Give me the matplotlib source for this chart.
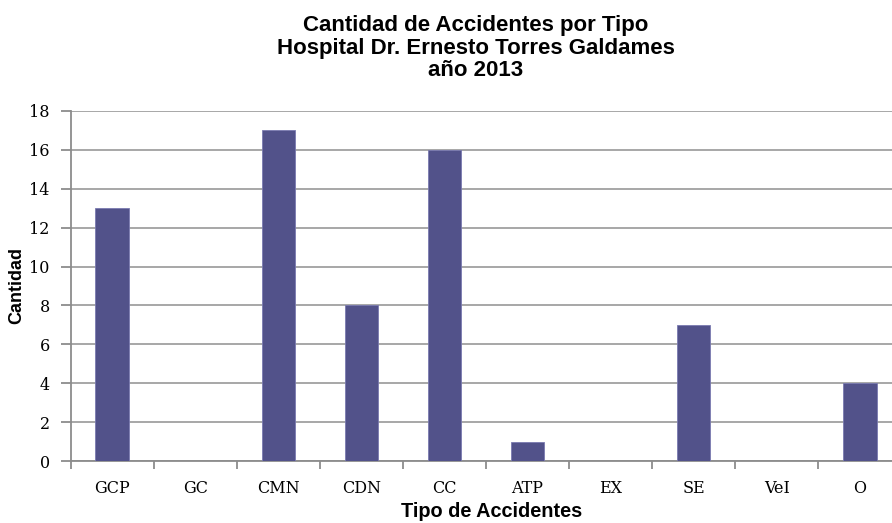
import numpy as np
import matplotlib.pyplot as plt

# datos del grafico
tipos = ['GCP', 'GC', 'CMN', 'CDN', 'CC', 'ATP', 'EX', 'SE', 'VeI', 'O']
cantidad = [13, 0, 17, 8, 16, 1, 0, 7, 0, 4]
yticks = list(range(0, 19, 2))

fig = plt.figure(figsize=(8.92, 5.23), dpi=100)
ax = fig.add_axes([70.5/892, 62/523, 831/892, 350/523])

x = np.arange(len(tipos))
ax.bar(x, cantidad, width=0.4, color='#52528a', edgecolor='#7a7ab0', linewidth=0.6, zorder=3)

ax.set_xlim(-0.5, len(tipos) - 0.5)
ax.set_ylim(0, 18)
ax.set_yticks(yticks)
ax.set_yticklabels([str(v) for v in yticks], family='DejaVu Serif', fontsize=11.5)

# ticks del eje x en los bordes de cada categoria
ax.set_xticks(np.arange(len(tipos) + 1) - 0.5)
ax.set_xticklabels([])
ax.set_xticks(x, minor=True)
ax.set_xticklabels(tipos, minor=True, family='DejaVu Serif', fontsize=11.5)
ax.tick_params(axis='x', which='minor', length=0, pad=14)
ax.tick_params(axis='x', which='major', length=6, width=1.3, color='#8c8c8c')
ax.tick_params(axis='y', length=7, width=1.3, color='#8c8c8c', pad=8)

ax.grid(axis='y', color='#a0a0a0', linewidth=1.3, zorder=0)
for s in ['top', 'right']:
    ax.spines[s].set_visible(False)
for s in ['left', 'bottom']:
    ax.spines[s].set_color('#8c8c8c')
    ax.spines[s].set_linewidth(1.3)

ax.set_ylabel('Cantidad', family='Liberation Sans', fontsize=13, fontweight='bold')
ax.yaxis.set_label_coords(-0.055, 0.5)
ax.set_xlabel('Tipo de Accidentes', family='Liberation Sans', fontsize=14.3, fontweight='bold')
ax.xaxis.set_label_coords(0.507, -0.118)
ax.xaxis.label.set_va('top')

fig.text(476/892, 0.908, 'Cantidad de Accidentes por Tipo\nHospital Dr. Ernesto Torres Galdames\naño 2013',
         ha='center', va='center', family='Liberation Sans', fontsize=16, fontweight='bold',
         linespacing=1.1)

fig.savefig('out.png', dpi=100)
